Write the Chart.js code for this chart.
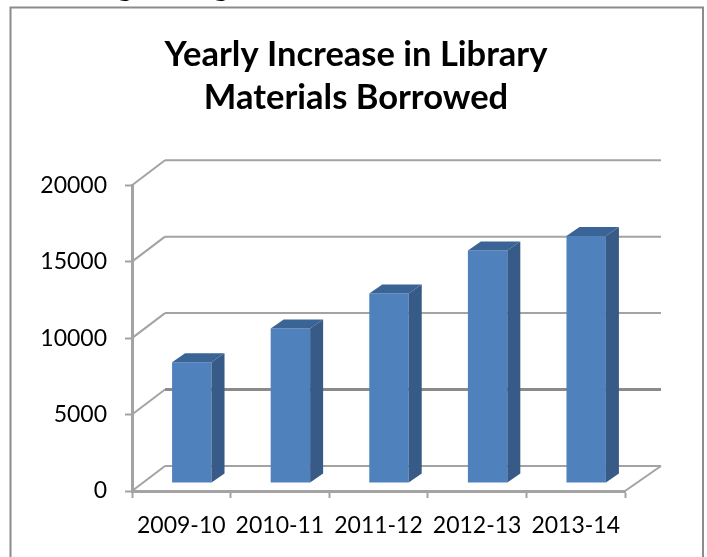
<!DOCTYPE html>
<html>
<head>
<meta charset="utf-8">
<title>Yearly Increase in Library Materials Borrowed</title>
<script src="https://cdn.jsdelivr.net/npm/chart.js@4"></script>
<style>
    html, body { margin: 0; padding: 0; background: #fff; overflow: hidden; }
    canvas { display: block; }
</style>
</head>
<body>
<canvas id="borrowedChart" width="707" height="557"></canvas>
<script>
const years = ['2009-10', '2010-11', '2011-12', '2012-13', '2013-14'];
const borrowed = [7900, 10100, 12400, 15200, 16150];
const yTicks = [0, 5000, 10000, 15000, 20000];
const titleLines = ['Yearly Increase in Library', 'Materials Borrowed'];

const gridColor = '#a3a3a3';
const fontName = 'Lato, "Open Sans", sans-serif';

// fake 3d: Chart.js has no depth, so walls and bar sides go on in a plugin
const fake3d = {
    id: 'fake3d',
    beforeDraw(chart) {
        const ctx = chart.ctx;
        // frame is open at the bottom, the screenshot cuts it off
        ctx.save();
        ctx.strokeStyle = '#8c8c8c';
        ctx.lineWidth = 2;
        ctx.beginPath();
        ctx.moveTo(10.5, 557);
        ctx.lineTo(10.5, 7.5);
        ctx.lineTo(703, 7.5);
        ctx.lineTo(703, 557);
        ctx.stroke();
        // tails of the heading above the frame
        ctx.fillStyle = '#000';
        ctx.font = 'bold 34px ' + fontName;
        ctx.textAlign = 'center';
        ctx.fillText('g', 125, -5);
        ctx.fillText('g', 221, -5);
        ctx.restore();
    },
    beforeDatasetsDraw(chart) {
        const ctx = chart.ctx;
        const y = chart.scales.y;
        const a = chart.chartArea;
        const dx = 33, dy = -25, dxRight = 36;
        ctx.save();
        ctx.lineCap = 'butt';
        yTicks.forEach(v => {
            const py = y.getPixelForValue(v);
            // left wall diagonal
            ctx.strokeStyle = gridColor;
            ctx.lineWidth = 2;
            ctx.beginPath();
            ctx.moveTo(a.left, py);
            ctx.lineTo(a.left + dx, py + dy);
            ctx.stroke();
            // back wall line, the 5000 one is heavier in the picture
            if (v === 5000) {
                ctx.strokeStyle = '#8a8a8a';
                ctx.lineWidth = 3;
            }
            ctx.beginPath();
            ctx.moveTo(a.left + dx, py + dy);
            ctx.lineTo(a.right + dxRight, py + dy);
            ctx.stroke();
        });
        // floor
        const base = y.getPixelForValue(0);
        ctx.strokeStyle = gridColor;
        ctx.lineWidth = 2;
        ctx.beginPath();
        ctx.moveTo(a.right + dxRight, base + dy);
        ctx.lineTo(a.right, base);
        ctx.stroke();
        ctx.restore();

        // bars stand in the middle of the floor
        ctx.save();
        ctx.translate(10.5, -8);
    },
    afterDatasetsDraw(chart) {
        const ctx = chart.ctx;
        const sx = 13, sy = -9;
        chart.getDatasetMeta(0).data.forEach(bar => {
            const l = bar.x - bar.width / 2;
            const r = bar.x + bar.width / 2;
            ctx.fillStyle = '#375a87';
            ctx.beginPath();
            ctx.moveTo(r, bar.y);
            ctx.lineTo(r + sx, bar.y + sy);
            ctx.lineTo(r + sx, bar.base + sy);
            ctx.lineTo(r, bar.base);
            ctx.closePath();
            ctx.fill();
            ctx.fillStyle = '#3a6396';
            ctx.beginPath();
            ctx.moveTo(l, bar.y);
            ctx.lineTo(l + sx, bar.y + sy);
            ctx.lineTo(r + sx, bar.y + sy);
            ctx.lineTo(r, bar.y);
            ctx.closePath();
            ctx.fill();
        });
        ctx.restore();
    }
};

new Chart(document.getElementById('borrowedChart').getContext('2d'), {
    type: 'bar',
    data: {
        labels: years,
        datasets: [{
            data: borrowed,
            backgroundColor: '#4f81bd',
            borderWidth: 0,
            barPercentage: 0.4,
            categoryPercentage: 1
        }]
    },
    plugins: [fake3d],
    options: {
        responsive: false,
        animation: false,
        layout: { padding: { left: 5 } },
        plugins: {
            legend: { display: false },
            tooltip: { enabled: false },
            title: {
                display: true,
                text: titleLines,
                color: '#000',
                font: { family: fontName, size: 34.5, weight: 'bold', lineHeight: 1.235 },
                padding: { top: 34, bottom: 66 }
            }
        },
        scales: {
            x: {
                afterFit(scale) { scale.height = 66; },
                grid: { drawOnChartArea: false, tickColor: gridColor, tickLength: 7, tickWidth: 2 },
                border: { color: gridColor, width: 3 },
                ticks: { color: '#000', maxRotation: 0, padding: 14, font: { family: fontName, size: 23 } }
            },
            y: {
                min: 0,
                max: 20000,
                afterFit(scale) { scale.width = 127; },
                afterBuildTicks(scale) { scale.ticks = yTicks.map(v => ({ value: v })); },
                grid: { drawOnChartArea: false, tickColor: gridColor, tickLength: 7, tickWidth: 2 },
                border: { color: gridColor, width: 3 },
                ticks: {
                    color: '#000',
                    padding: 18,
                    font: { family: fontName, size: 23 },
                    callback: v => String(v)
                }
            },
            // empty axis, only keeps the room on the right so the title stays centred on the page
            spacer: {
                position: 'right',
                afterFit(scale) { scale.width = 82; },
                grid: { display: false },
                border: { display: false },
                ticks: { display: false }
            }
        }
    }
});
</script>
</body>
</html>
